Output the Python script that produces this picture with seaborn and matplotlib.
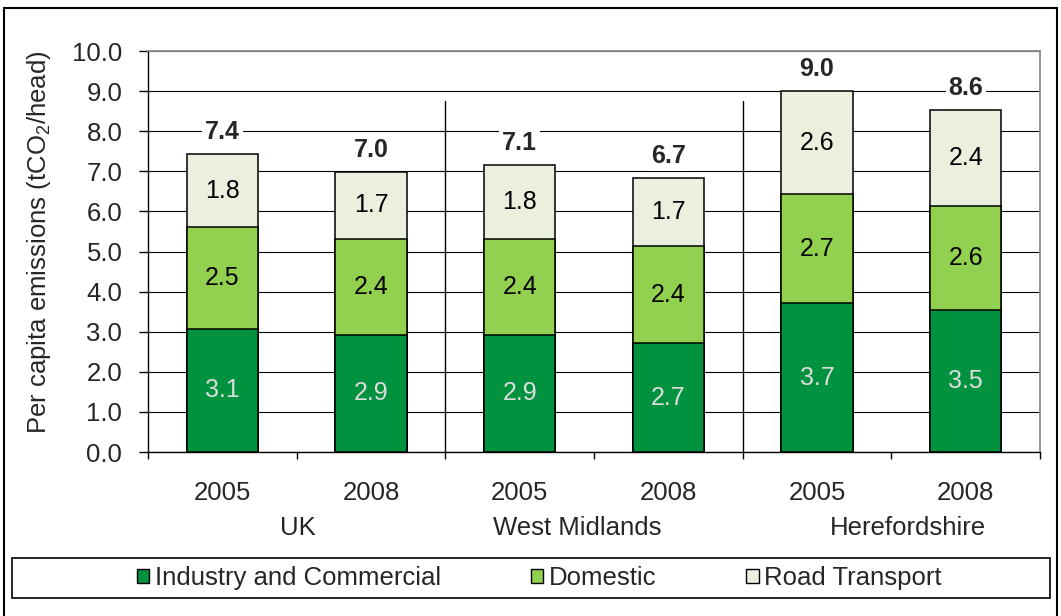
import seaborn as sns
import pandas as pd
import matplotlib.pyplot as plt
from matplotlib.patches import Rectangle, Patch

# values (tCO2 per head)
regions = ["UK", "West Midlands", "Herefordshire"]
years = ["2005", "2008"]
sectors = ["Industry and Commercial", "Domestic", "Road Transport"]
industry = [3.08, 2.92, 2.92, 2.71, 3.71, 3.53]
domestic = [2.52, 2.39, 2.40, 2.42, 2.72, 2.61]
road = [1.84, 1.68, 1.83, 1.70, 2.57, 2.39]
totals = [7.4, 7.0, 7.1, 6.7, 9.0, 8.6]
colors = ["#00923F", "#92D050", "#EBEFDE"]

bars = [f"{r} {y}" for r in regions for y in years]
df = pd.DataFrame({"bar": bars, sectors[0]: industry, sectors[1]: domestic, sectors[2]: road})
cum = df[sectors].cumsum(axis=1)

sns.set_style("white")
plt.rcParams["font.family"] = ["Liberation Sans", "DejaVu Sans"]
plt.rcParams["mathtext.default"] = "regular"

fig = plt.figure(figsize=(10.61, 6.16), dpi=100)
ax = fig.add_axes([0.1395, 0.2662, 0.8407, 0.651])

# stacked bars: draw the cumulative heights, tallest first
for i in reversed(range(3)):
    sns.barplot(x=df["bar"], y=cum[sectors[i]], order=bars, color=colors[i], saturation=1,
                width=0.48, edgecolor="black", linewidth=1.1, errorbar=None, ax=ax)

fs = 18.5
lab_fs = 18
for j in range(len(bars)):
    bottoms = [0, cum[sectors[0]][j], cum[sectors[1]][j]]
    vals = [industry[j], domestic[j], road[j]]
    for k in range(3):
        ax.text(j, bottoms[k] + vals[k] / 2, f"{vals[k]:.1f}", ha="center", va="center",
                fontsize=lab_fs, color="#DDDDDD" if k == 0 else "black")
    ax.text(j, cum[sectors[2]][j] + 0.55, f"{totals[j]:.1f}", ha="center", va="center",
            fontsize=lab_fs, fontweight="bold",
            bbox=dict(facecolor="white", edgecolor="none", pad=2))

ax.set_xlim(-0.5, 5.5)
ax.set_ylim(0, 10)
ax.set_yticks(range(11))
ax.set_yticklabels([f"{v:.1f}" for v in range(11)], fontsize=fs)
ax.set_xticks([x - 0.5 for x in range(7)])
ax.set_xticklabels([])
ax.set_xticks(range(6), minor=True)
ax.set_xticklabels(years * 3, minor=True, fontsize=fs)
ax.tick_params(axis="x", which="major", length=5, width=1, color="black", bottom=True)
ax.tick_params(axis="x", which="minor", length=0, pad=21)
ax.tick_params(axis="y", length=6.5, width=1, color="black", left=True, pad=12)
ax.set_xlabel("")
ax.set_ylabel("Per capita emissions (tCO$_2$/head)", fontsize=fs)
ax.yaxis.set_label_coords(-0.107, 0.524)

ax.yaxis.grid(True, color="black", linewidth=0.8)
ax.set_axisbelow(True)
for s in ["left", "bottom"]:
    ax.spines[s].set_color("black")
    ax.spines[s].set_linewidth(1)
for s in ["top", "right"]:
    ax.spines[s].set_color("#8C8C8C")
    ax.spines[s].set_linewidth(1.3)

# group separators and group names
for x in [1.5, 3.5]:
    ax.plot([x, x], [8.75, 0], color="black", linewidth=1, clip_on=False)
for x, name in zip([0.51, 2.39, 4.61], regions):
    ax.text(x, -0.19, name, transform=ax.get_xaxis_transform(), ha="center", va="center",
            fontsize=fs)

handles = [Patch(facecolor=c, edgecolor="black", linewidth=1) for c in colors]
fig.legend(handles, sectors, loc="center", bbox_to_anchor=(539 / 1061, 1 - 578 / 616), ncol=3,
           frameon=False, fontsize=fs, handlelength=0.5, handleheight=0.5,
           handletextpad=0.2, columnspacing=3.5)
fig.patches.append(Rectangle((12 / 1061, 1 - 598 / 616), 1038 / 1061, 40 / 616,
                             transform=fig.transFigure, fill=False, edgecolor="black", linewidth=1.2))
fig.patches.append(Rectangle((4 / 1061, -0.05), 1053 / 1061, 1.05 - 8 / 616,
                             transform=fig.transFigure, fill=False, edgecolor="black", linewidth=1.5))

fig.savefig("out.png", dpi=100, facecolor="white")
